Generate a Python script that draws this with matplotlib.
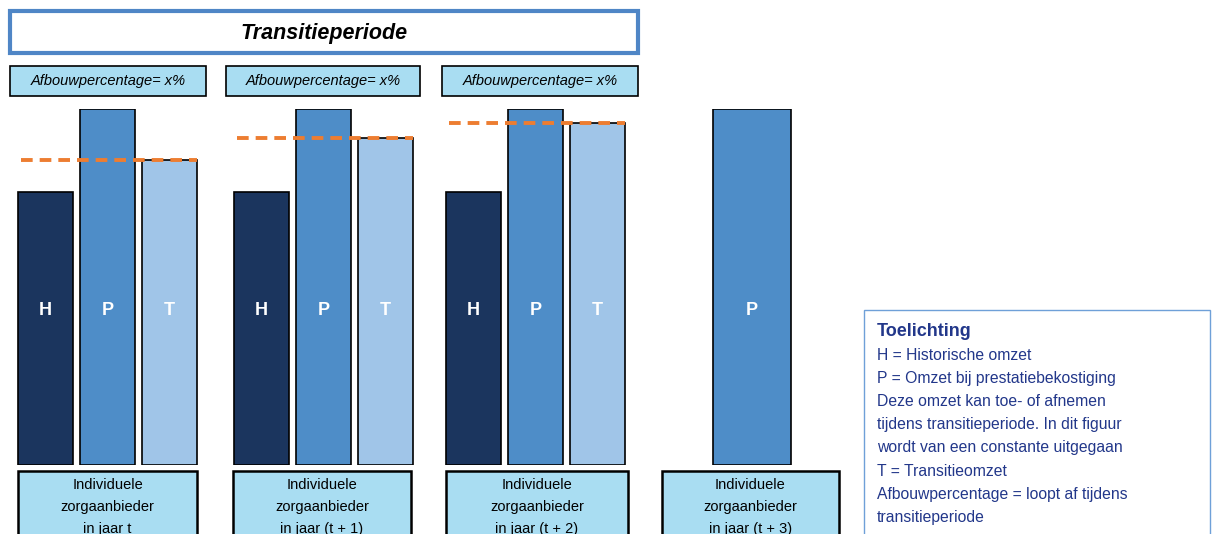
import matplotlib
matplotlib.use('Agg')
import matplotlib.pyplot as plt
from matplotlib.patches import Rectangle

plt.rcParams['font.family'] = ['Liberation Sans', 'DejaVu Sans']

# relative turnover, P = 100
groups = ['t', 't + 1', 't + 2', 't + 3']
hist_omzet = [76.7, 76.7, 76.7]
prest_omzet = [100, 100, 100, 100]
trans_omzet = [85.7, 91.9, 96.1]
bar_letters = ['H', 'P', 'T']
afbouw_label = 'Afbouwpercentage= x%'
title = 'Transitieperiode'
toelichting = ['H = Historische omzet',
               'P = Omzet bij prestatiebekostiging',
               'Deze omzet kan toe- of afnemen',
               'tijdens transitieperiode. In dit figuur',
               'wordt van een constante uitgegaan',
               'T = Transitieomzet',
               'Afbouwpercentage = loopt af tijdens',
               'transitieperiode']

c_h = '#1B355E'
c_p = '#4E8DC8'
c_t = '#A0C5E8'
c_box = '#A9DDF2'
c_orange = '#ED7D31'
c_navy = '#22378A'

W, Hpx = 1215, 534
fig = plt.figure(figsize=(W / 100, Hpx / 100), dpi=100)

# overlay axes in pixel coordinates (y down)
ov = fig.add_axes([0, 0, 1, 1])
ov.set_xlim(0, W)
ov.set_ylim(Hpx, 0)
ov.axis('off')

# bar axes: base at 465px, P top at 109px
base_px, top_px = 465, 109
ax = fig.add_axes([0, (Hpx - base_px) / Hpx, 1, (base_px - top_px) / Hpx])
ax.set_xlim(0, W)
ax.set_ylim(0, 100)
ax.axis('off')

group_x = [18, 234, 446]
bw = 55
gap = 62
for i in range(3):
    x0 = group_x[i]
    xs = [x0, x0 + gap, x0 + 2 * gap]
    vals = [hist_omzet[i], prest_omzet[i], trans_omzet[i]]
    cols = [c_h, c_p, c_t]
    ax.bar(xs, vals, width=bw, align='edge', color=cols,
           edgecolor='black', linewidth=1.2)
    for x, lt in zip(xs, bar_letters):
        ax.text(x + bw / 2, 43.5, lt, color='white', fontsize=13,
                fontweight='bold', ha='center', va='center')
    ax.plot([x0 + 3, xs[2] + bw], [trans_omzet[i]] * 2, color=c_orange,
            linestyle=(0, (3, 1.8)), linewidth=2.8)

# final year: only P
ax.bar([713], [prest_omzet[3]], width=78, align='edge', color=c_p,
       edgecolor='black', linewidth=1.2)
ax.text(752, 43.5, 'P', color='white', fontsize=13, fontweight='bold',
        ha='center', va='center')

# title box
ov.add_patch(Rectangle((10, 11), 628, 42, facecolor='white',
                       edgecolor='#4F86C6', linewidth=3))
ov.text(324, 33, title, fontsize=15.5, fontweight='bold', style='italic',
        ha='center', va='center')

# afbouw boxes
for x0, x1 in [(10, 206), (226, 420), (442, 638)]:
    ov.add_patch(Rectangle((x0, 66), x1 - x0, 30, facecolor=c_box,
                           edgecolor='black', linewidth=1.2))
    ov.text((x0 + x1) / 2, 81, afbouw_label, fontsize=10.5, style='italic',
            ha='center', va='center')

# bottom boxes
for (x0, x1), g in zip([(18, 197), (233, 411), (446, 628), (662, 839)], groups):
    ov.add_patch(Rectangle((x0, 471), x1 - x0, 70, facecolor=c_box,
                           edgecolor='black', linewidth=1.8))
    lbl = 'in jaar t' if g == 't' else 'in jaar (%s)' % g
    for k, s in enumerate(['Individuele', 'zorgaanbieder', lbl]):
        ov.text((x0 + x1) / 2, 485 + 22 * k, s, fontsize=10.5,
                ha='center', va='center')

# explanation box
ov.add_patch(Rectangle((864, 310), 346, 240, facecolor='white',
                       edgecolor='#6FA0D8', linewidth=1))
ov.text(877, 332, 'Toelichting', fontsize=13, fontweight='bold',
        color=c_navy, ha='left', va='center')
for k, s in enumerate(toelichting):
    ov.text(877, 355 + 23.2 * k, s, fontsize=11.3, color=c_navy,
            ha='left', va='center')

fig.savefig('out.png', dpi=100)
